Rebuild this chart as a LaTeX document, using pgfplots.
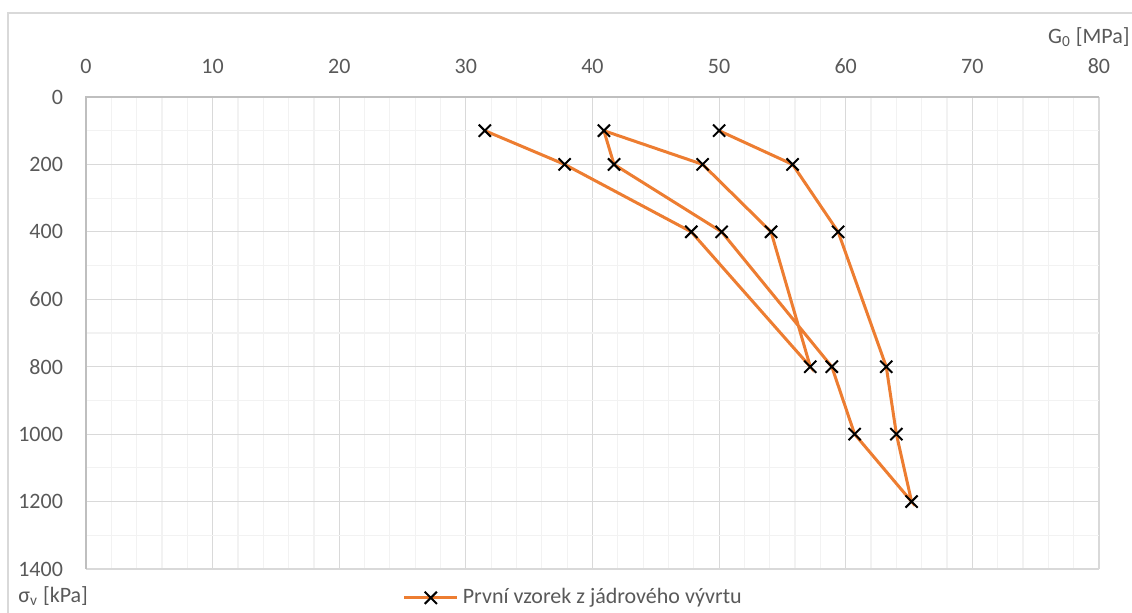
\documentclass[border=0pt]{standalone}
\usepackage{pgfplots}
\pgfplotsset{compat=1.18}
\usepackage{fontspec}
\setmainfont{Carlito}
\definecolor{gridmaj}{HTML}{D9D9D9}
\definecolor{gridmin}{HTML}{F2F2F2}
\definecolor{axcol}{HTML}{BFBFBF}
\definecolor{txt}{HTML}{595959}
\definecolor{orng}{HTML}{ED7D31}
\begin{document}
\begin{tikzpicture}[x=1pt,y=1pt]
\useasboundingbox (-43,-22) rectangle (523,284.5);
\draw[gridmaj, line width=0.6pt] (-39,-30) -- (-39,278) -- (530,278);
\begin{axis}[at={(0,0)}, anchor=south west,
  width=506.5pt, height=236pt, scale only axis,
  xmin=0, xmax=80, ymin=0, ymax=1400, y dir=reverse,
  xtick distance=10, ytick distance=200,
  minor x tick num=4, minor y tick num=1,
  grid=both,
  major grid style={gridmaj, line width=0.6pt},
  minor grid style={gridmin, line width=0.6pt},
  axis line style={draw=none},
  major tick length=0pt, minor tick length=0pt,
  tick style={draw=none},
  /pgf/number format/assume math mode=true,
  /pgf/number format/set thousands separator={},
  ticklabel style={font=\fontsize{11}{13}\selectfont, text=txt},
  xticklabel pos=top,
  xticklabel style={yshift=8pt},
  yticklabel style={xshift=-8pt},
  legend style={at={(0.482,-0.061)}, anchor=center, draw=none, fill=none,
    font=\fontsize{11}{13}\selectfont, text=txt},
  legend image code/.code={\draw[mark repeat=2,mark phase=2,#1] plot coordinates {(0pt,0pt) (13.25pt,0pt) (26.5pt,0pt)};},
  legend cell align=left,
]
\addplot[orng, line width=1.5pt, mark=x, mark size=4.3pt,
  mark options={black, line width=1pt, solid}] table {
x y
31.5 100
37.8 200
47.8 400
57.2 800
54.1 400
48.7 200
40.9 100
41.7 200
50.2 400
58.9 800
60.7 1000
65.2 1200
64.0 1000
63.2 800
59.4 400
55.8 200
50.0 100
};
\addlegendentry{První vzorek z jádrového vývrtu}
\end{axis}
\draw[axcol, line width=0.6pt] (0,0) -- (0,236) -- (506.5,236);
\node[anchor=east, text=txt, font=\fontsize{11}{13}\selectfont, inner sep=0pt] at (522,266) {G\textsubscript{0} [MPa]};
\node[anchor=west, text=txt, font=\fontsize{11}{13}\selectfont, inner sep=0pt] at (-34,-13.5) {σ\textsubscript{v} [kPa]};
\end{tikzpicture}
\end{document}
